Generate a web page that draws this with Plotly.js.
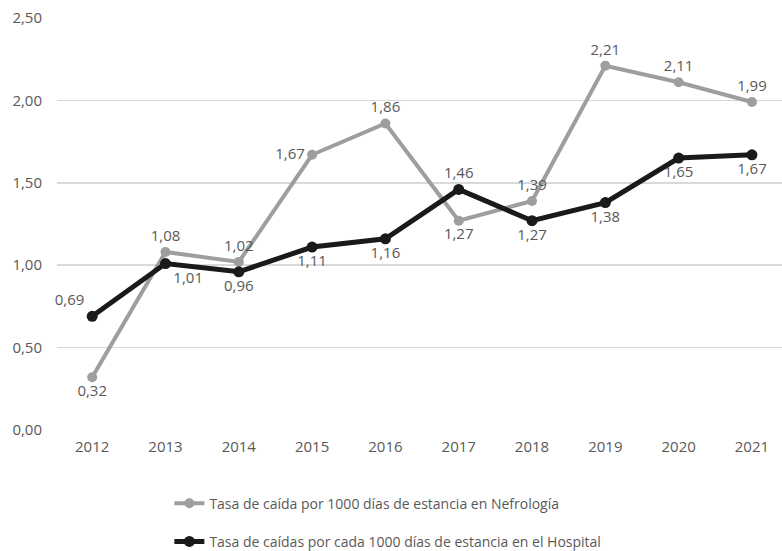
<!DOCTYPE html>
<html>
<head>
<meta charset="utf-8">
<script src="https://cdn.plot.ly/plotly-3.0.1.min.js"></script>
<style>html,body{margin:0;padding:0;background:#fff;}#chart{width:782px;height:551px;}</style>
</head>
<body>
<div id="chart"></div>
<script>
const years = ['2012','2013','2014','2015','2016','2017','2018','2019','2020','2021'];
const nefrologia = [0.32, 1.08, 1.02, 1.67, 1.86, 1.27, 1.39, 2.21, 2.11, 1.99];
const hospital = [0.69, 1.01, 0.96, 1.11, 1.16, 1.46, 1.27, 1.38, 1.65, 1.67];
const nameNefro = 'Tasa de caída por 1000 días de estancia en Nefrología';
const nameHosp = 'Tasa de caídas por cada 1000 días de estancia en el Hospital';
const posNefro = ['bottom center','top center','top center','middle left','top center','bottom center','top center','top center','top center','top center'];
const posHosp = ['top left','bottom right','bottom center','bottom center','bottom center','top center','bottom center','bottom center','bottom center','bottom center'];

const FONT = 'Open Sans, Noto Sans, sans-serif';
const traces = [
  {
    x: years, y: nefrologia, name: nameNefro, type: 'scatter', mode: 'lines+markers+text',
    line: {color: '#9e9e9e', width: 4}, marker: {color: '#9e9e9e', size: 10},
    texttemplate: '%{y:.2f}', textposition: posNefro,
    textfont: {family: FONT, size: 15, color: '#595959'},
    legendgroup: 'a', hoverinfo: 'skip', cliponaxis: false
  },
  {
    x: years, y: hospital, name: nameHosp, type: 'scatter', mode: 'lines+markers+text',
    line: {color: '#1a1a1a', width: 5}, marker: {color: '#1a1a1a', size: 11},
    texttemplate: '%{y:.2f}', textposition: posHosp,
    textfont: {family: FONT, size: 15, color: '#595959'},
    legendgroup: 'b', hoverinfo: 'skip', cliponaxis: false
  }
];
const layout = {
  width: 782, height: 551,
  margin: {l: 57, r: 0, t: 18, b: 121, autoexpand: false},
  paper_bgcolor: '#ffffff', plot_bgcolor: '#ffffff',
  separators: ',.',
  font: {family: FONT, size: 15, color: '#595959'},
  xaxis: {
    type: 'category', range: [-0.48, 9.41], showgrid: false, zeroline: false,
    showline: false, ticks: '', ticklabelstandoff: 6,
    tickfont: {family: FONT, size: 15, color: '#595959'}
  },
  yaxis: {
    range: [0, 2.5], dtick: 0.5, tick0: 0, tickformat: '.2f',
    showgrid: true, gridcolor: '#d9d9d9', gridwidth: 1.5,
    zeroline: false, showline: false, ticks: '', ticklabelstandoff: 14,
    tickfont: {family: FONT, size: 15, color: '#595959'}
  },
  showlegend: true,
  legend: {
    orientation: 'v', x: 0.155, xanchor: 'left', y: -0.14, yanchor: 'top',
    traceorder: 'grouped', tracegroupgap: 17,
    font: {family: FONT, size: 14, color: '#595959'},
    bgcolor: 'rgba(0,0,0,0)', itemwidth: 30
  }
};
Plotly.newPlot('chart', traces, layout, {displayModeBar: false, staticPlot: true});
</script>
</body>
</html>
